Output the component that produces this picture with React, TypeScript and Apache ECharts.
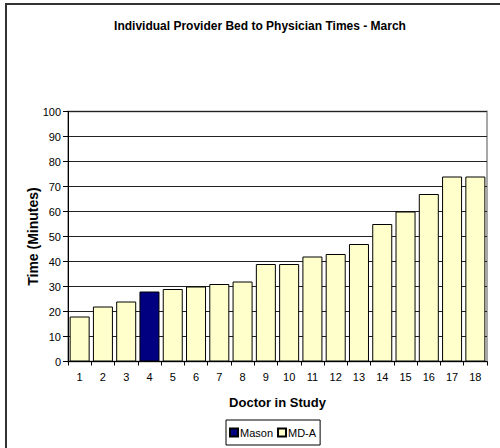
import React, { useEffect, useRef } from "react";
import * as echarts from "echarts";

const categories = ["1", "2", "3", "4", "5", "6", "7", "8", "9", "10", "11", "12", "13", "14", "15", "16", "17", "18"];
const masonValues: (number | null)[] = [null, null, null, 28, null, null, null, null, null, null, null, null, null, null, null, null, null, null];
const mdaValues: (number | null)[] = [18, 22, 24, null, 29, 30, 31, 32, 39, 39, 42, 43, 47, 55, 60, 67, 74, 74];
const yTicks = { min: 0, max: 100, interval: 10 };

const FONT = "'Liberation Sans', Arial, sans-serif";

export default function App() {
  const ref = useRef<HTMLDivElement>(null);
  useEffect(() => {
    if (!ref.current) return;
    const chart = echarts.init(ref.current, null, { renderer: "svg" });
    chart.setOption({
      animation: false,
      backgroundColor: "#fff",
      textStyle: { fontFamily: FONT },
      title: {
        text: "Individual Provider Bed to Physician Times - March",
        left: 255,
        textAlign: "center",
        top: 15,
        textStyle: { fontFamily: FONT, fontSize: 12, fontWeight: "bold", color: "#000" },
      },
      grid: {
        left: 68,
        right: 13,
        top: 111.5,
        bottom: 86.5,
        show: true,
        borderColor: "#a8a8a8",
        borderWidth: 2,
        containLabel: false,
      },
      legend: {
        left: 226,
        top: 420,
        orient: "horizontal",
        itemWidth: 8,
        itemHeight: 8,
        itemGap: 4,
        padding: [7, 4, 7, 3],
        borderColor: "#000",
        borderWidth: 1,
        icon: "rect",
        textStyle: { fontFamily: FONT, fontSize: 11, color: "#000", padding: [0, 0, 0, -3] },
        data: ["Mason", "MD-A"],
      },
      xAxis: {
        type: "category",
        data: categories,
        name: "Doctor in Study",
        nameLocation: "middle",
        nameGap: 34,
        nameMoveOverlap: false,
        nameTextStyle: { fontFamily: FONT, fontSize: 13, fontWeight: "bold", color: "#000" },
        axisLine: { show: true, lineStyle: { color: "#000", width: 1 } },
        axisTick: { show: true, length: 4, lineStyle: { color: "#000" } },
        axisLabel: { fontFamily: FONT, fontSize: 11, color: "#000", margin: 10, interval: 0 },
      },
      yAxis: {
        type: "value",
        min: yTicks.min,
        max: yTicks.max,
        interval: yTicks.interval,
        name: "Time (Minutes)",
        nameLocation: "middle",
        nameRotate: 90,
        nameGap: 28,
        nameMoveOverlap: false,
        nameTextStyle: { fontFamily: FONT, fontSize: 14, fontWeight: "bold", color: "#000" },
        axisLine: { show: true, lineStyle: { color: "#000", width: 1 } },
        axisTick: { show: true, length: 5, lineStyle: { color: "#000" } },
        axisLabel: { fontFamily: FONT, fontSize: 11, color: "#000", margin: 7 },
        splitLine: { show: true, lineStyle: { color: "#222", width: 1 } },
      },
      series: [
        {
          name: "Mason",
          type: "bar",
          stack: "all",
          data: masonValues,
          barCategoryGap: "14%",
          itemStyle: { color: "#000080", borderColor: "#000", borderWidth: 1 },
        },
        {
          name: "MD-A",
          type: "bar",
          stack: "all",
          data: mdaValues,
          barCategoryGap: "14%",
          itemStyle: { color: "#FFFFCC", borderColor: "#000", borderWidth: 1 },
        },
      ],
      graphic: [
        { type: "line", shape: { x1: 5, y1: 4, x2: 500, y2: 4 }, style: { stroke: "#333", lineWidth: 2 } },
        { type: "line", shape: { x1: 6, y1: 3, x2: 6, y2: 448 }, style: { stroke: "#333", lineWidth: 2 } },
      ],
    });
    return () => chart.dispose();
  }, []);
  return <div ref={ref} style={{ position: "fixed", left: 0, top: 0, width: 500, height: 448 }} />;
}
